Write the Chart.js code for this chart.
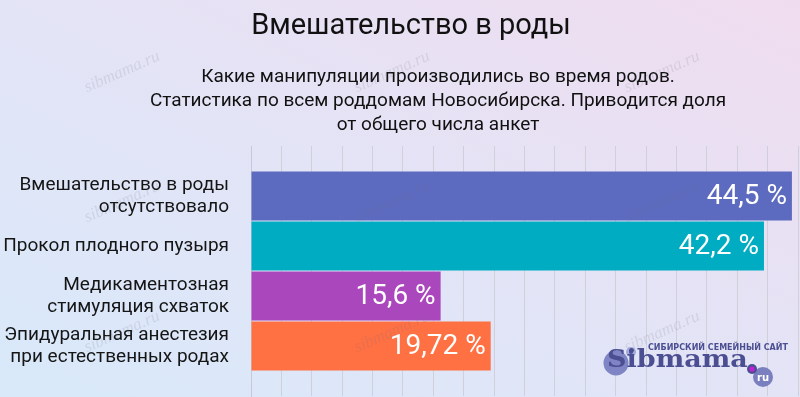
<!DOCTYPE html>
<html><head><meta charset="utf-8">
<script src="https://cdn.jsdelivr.net/npm/chart.js@4"></script>
<style>
html,body{margin:0;padding:0;}
body{width:800px;height:397px;overflow:hidden;background:linear-gradient(to top right,#d8e9fa 0%,#e3e4f6 50%,#f0dcef 100%);}
#wrap{width:800px;height:397px;position:relative;}
</style></head><body>
<div id="wrap"><canvas id="c"></canvas></div>
<script>
const titleText = 'Вмешательство в роды';
const subtitleLines = [
  'Какие манипуляции производились во время родов.',
  'Статистика по всем роддомам Новосибирска. Приводится доля',
  'от общего числа анкет'
];
const categories = [
  ['Вмешательство в роды', 'отсутствовало'],
  ['Прокол плодного пузыря'],
  ['Медикаментозная', 'стимуляция схваток'],
  ['Эпидуральная анестезия', 'при естественных родах']
];
const values = [44.5, 42.2, 15.6, 19.72];
const barColors = ['#5C6BC0', '#00ACC1', '#AB47BC', '#FF7043'];
const xMin = 0, xMax = 45, xStep = 2.5;

const fmt = v => String(v).replace('.', ',') + ' %';

const textPlugin = {
  id: 'texts',
  afterDraw(chart) {
    const ctx = chart.ctx;
    ctx.save();
    ctx.fillStyle = '#111';
    ctx.textAlign = 'center';
    ctx.textBaseline = 'alphabetic';
    ctx.font = '29px Roboto';
    ctx.fillText(titleText, 411, 33.5);
    ctx.font = '19px Roboto';
    subtitleLines.forEach((l, i) => ctx.fillText(l, 438, 81.7 + i * 24));
    ctx.restore();
  }
};

const valuePlugin = {
  id: 'values',
  afterDatasetsDraw(chart) {
    const ctx = chart.ctx;
    const meta = chart.getDatasetMeta(0);
    ctx.save();
    ctx.fillStyle = '#fff';
    ctx.font = '28px Roboto';
    ctx.textAlign = 'right';
    ctx.textBaseline = 'middle';
    meta.data.forEach((bar, i) => {
      ctx.fillText(fmt(values[i]), bar.x - 5, bar.y + 1);
    });
    ctx.restore();
  }
};

const markPlugin = {
  id: 'marks',
  afterDraw(chart) {
    const ctx = chart.ctx;
    ctx.save();
    ctx.font = 'italic 17px "Liberation Serif"';
    ctx.fillStyle = 'rgba(110,110,130,0.16)';
    ctx.textAlign = 'center';
    ctx.textBaseline = 'middle';
    [[122,72],[392,72],[662,72],[122,202],[392,202],[662,202],[122,332],[392,332],[662,332]].forEach(p => {
      ctx.save();
      ctx.translate(p[0], p[1]);
      ctx.rotate(-0.42);
      ctx.fillText('sibmama.ru', 0, 0);
      ctx.restore();
    });
    ctx.fillStyle = '#7f85c4';
    ctx.beginPath(); ctx.arc(616, 363, 12.5, 0, Math.PI * 2); ctx.fill();
    ctx.fillStyle = '#a4a9dc';
    ctx.beginPath(); ctx.arc(631, 352, 5, 0, Math.PI * 2); ctx.fill();
    ctx.fillStyle = '#4b4f92';
    ctx.beginPath(); ctx.arc(631, 352, 2, 0, Math.PI * 2); ctx.fill();
    ctx.fillStyle = '#7a80bf';
    ctx.beginPath(); ctx.arc(763, 377, 10, 0, Math.PI * 2); ctx.fill();
    ctx.fillStyle = '#fff';
    ctx.font = 'bold 10px "DejaVu Sans"';
    ctx.textAlign = 'center';
    ctx.fillText('ru', 763, 378);
    ctx.fillStyle = '#4b4f92';
    ctx.beginPath(); ctx.arc(752, 369, 5, 0, Math.PI * 2); ctx.fill();
    ctx.fillStyle = '#c21fd6';
    ctx.beginPath(); ctx.arc(752, 369, 2.6, 0, Math.PI * 2); ctx.fill();
    ctx.fillStyle = '#4b4f92';
    ctx.font = 'bold 8px "DejaVu Sans"';
    ctx.textAlign = 'left';
    ctx.fillText('СИБИРСКИЙ СЕМЕЙНЫЙ САЙТ', 648, 348);
    ctx.save();
    ctx.translate(607, 367);
    ctx.scale(1.08, 1);
    ctx.font = 'bold 25px "DejaVu Serif"';
    ctx.textBaseline = 'alphabetic';
    ctx.fillStyle = '#4b4f92';
    ctx.fillText('Sibmama', 0, 0);
    ctx.restore();
    ctx.restore();
  }
};

new Chart(document.getElementById('c'), {
  type: 'bar',
  data: {
    datasets: [{
      data: values.map((v, i) => ({ x: v, y: i + 1 })),
      backgroundColor: barColors,
      borderWidth: 0,
      barPercentage: 0.98,
      categoryPercentage: 1
    }]
  },
  options: {
    indexAxis: 'y',
    responsive: true,
    maintainAspectRatio: false,
    animation: false,
    layout: { padding: { top: 146, right: 2, bottom: 1, left: 0 } },
    plugins: { legend: { display: false }, tooltip: { enabled: false }, title: { display: false } },
    scales: {
      x: {
        type: 'linear',
        min: xMin, max: xMax,
        ticks: { display: false, stepSize: xStep },
        grid: { color: '#cfd0da', drawTicks: false },
        border: { display: false },
        afterFit(scale) { scale.height = 0; scale.paddingLeft = 0; scale.paddingRight = 0; }
      },
      y: {
        type: 'linear',
        reverse: true,
        offset: false,
        min: 0, max: categories.length + 1,
        afterFit(scale) { scale.width = 251; scale.paddingTop = 0; scale.paddingBottom = 0; },
        ticks: {
          stepSize: 1,
          autoSkip: false,
          padding: 22,
          color: '#151515',
          font: { family: 'Roboto', size: 19, lineHeight: 1.15 },
          callback: v => (Number.isInteger(v) && v >= 1 && v <= categories.length) ? categories[v - 1] : ''
        },
        grid: { display: false, drawTicks: false, offset: false },
        border: { display: true, color: '#c8c9d4' }
      }
    }
  },
  plugins: [textPlugin, valuePlugin, markPlugin]
});
</script>
</body></html>
